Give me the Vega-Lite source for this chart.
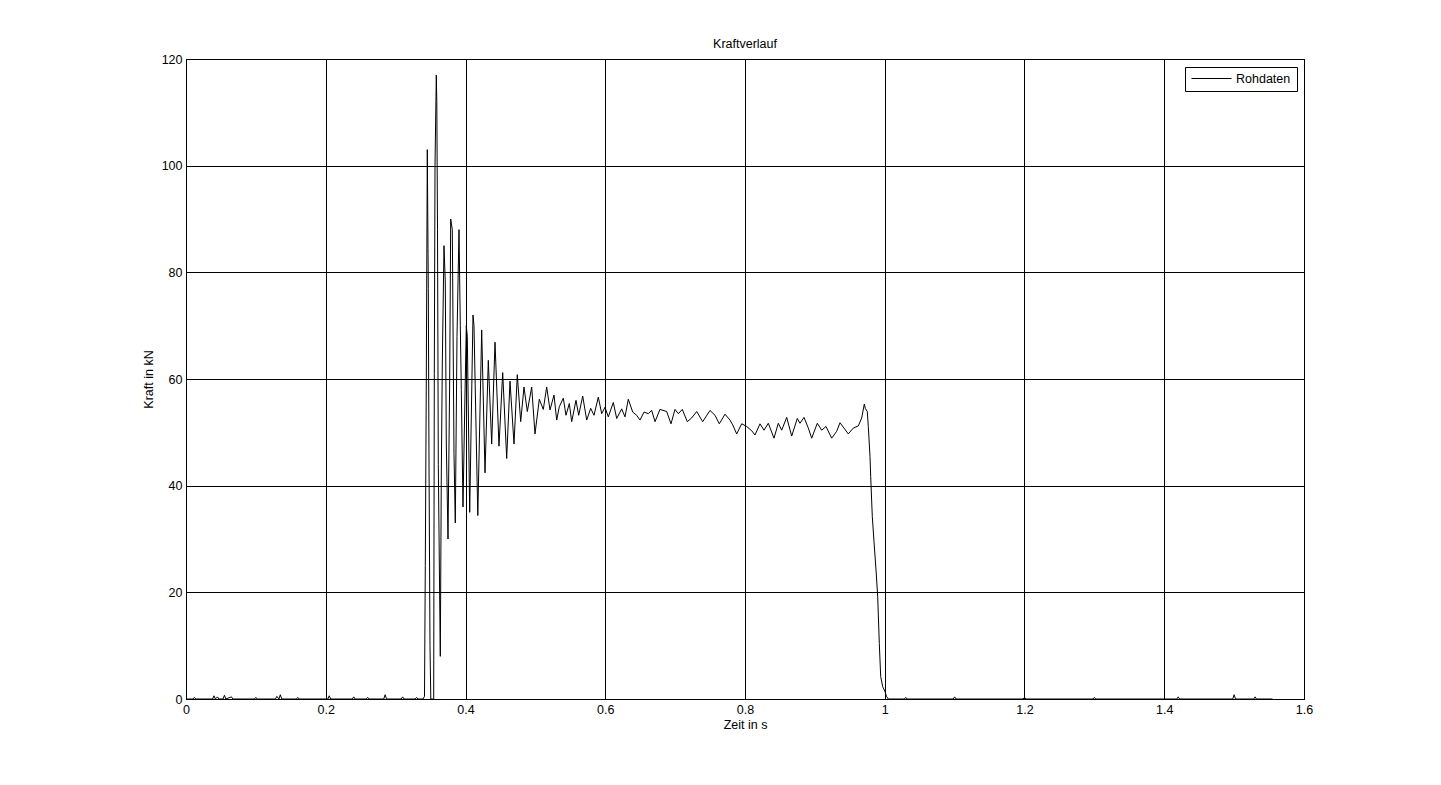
{
  "$schema": "https://vega.github.io/schema/vega-lite/v6.json",
  "autosize": "none",
  "padding": {"left": 186, "top": 59, "right": 137, "bottom": 86},
  "width": 1118,
  "height": 640,
  "background": "white",
  "title": {
    "text": "Kraftverlauf",
    "font": "Liberation Sans",
    "fontSize": 12.5,
    "fontWeight": "normal",
    "color": "black",
    "offset": 3
  },
  "data": {
    "values": [
      {"t": 0.0, "F": 0}, {"t": 0.010, "F": 0}, {"t": 0.012, "F": 0.3}, {"t": 0.014, "F": 0},
      {"t": 0.038, "F": 0}, {"t": 0.040, "F": 0.6}, {"t": 0.042, "F": 0}, {"t": 0.045, "F": 0.4}, {"t": 0.047, "F": 0},
      {"t": 0.053, "F": 0}, {"t": 0.055, "F": 0.7}, {"t": 0.057, "F": 0}, {"t": 0.065, "F": 0.4}, {"t": 0.067, "F": 0},
      {"t": 0.098, "F": 0}, {"t": 0.100, "F": 0.3}, {"t": 0.102, "F": 0},
      {"t": 0.128, "F": 0}, {"t": 0.130, "F": 0.5}, {"t": 0.133, "F": 0}, {"t": 0.135, "F": 0.8}, {"t": 0.137, "F": 0},
      {"t": 0.158, "F": 0}, {"t": 0.160, "F": 0.3}, {"t": 0.162, "F": 0},
      {"t": 0.203, "F": 0}, {"t": 0.205, "F": 0.6}, {"t": 0.207, "F": 0},
      {"t": 0.238, "F": 0}, {"t": 0.240, "F": 0.4}, {"t": 0.242, "F": 0},
      {"t": 0.258, "F": 0}, {"t": 0.260, "F": 0.3}, {"t": 0.262, "F": 0},
      {"t": 0.283, "F": 0}, {"t": 0.285, "F": 0.8}, {"t": 0.287, "F": 0},
      {"t": 0.308, "F": 0}, {"t": 0.310, "F": 0.4}, {"t": 0.312, "F": 0},
      {"t": 0.328, "F": 0}, {"t": 0.330, "F": 0.3}, {"t": 0.332, "F": 0},
      {"t": 0.33918, "F": 0},
      {"t": 0.34132, "F": 0.5},
      {"t": 0.34247, "F": 25},
      {"t": 0.34390, "F": 60},
      {"t": 0.34533, "F": 103},
      {"t": 0.34633, "F": 84.5},
      {"t": 0.34676, "F": 77},
      {"t": 0.34776, "F": 45},
      {"t": 0.34919, "F": 10},
      {"t": 0.35034, "F": 0},
      {"t": 0.35277, "F": 0},
      {"t": 0.35449, "F": 0},
      {"t": 0.35535, "F": 61},
      {"t": 0.35635, "F": 100},
      {"t": 0.35821, "F": 117},
      {"t": 0.35893, "F": 112},
      {"t": 0.35993, "F": 88},
      {"t": 0.36107, "F": 44},
      {"t": 0.36394, "F": 8},
      {"t": 0.36537, "F": 42},
      {"t": 0.36680, "F": 63},
      {"t": 0.36923, "F": 85},
      {"t": 0.37109, "F": 78},
      {"t": 0.37252, "F": 48},
      {"t": 0.37496, "F": 30},
      {"t": 0.37739, "F": 60},
      {"t": 0.37882, "F": 90},
      {"t": 0.38111, "F": 88},
      {"t": 0.38354, "F": 46},
      {"t": 0.38540, "F": 33},
      {"t": 0.38784, "F": 68},
      {"t": 0.39070, "F": 88},
      {"t": 0.39256, "F": 70},
      {"t": 0.39399, "F": 58},
      {"t": 0.39642, "F": 36},
      {"t": 0.39886, "F": 54},
      {"t": 0.40114, "F": 70},
      {"t": 0.40258, "F": 68},
      {"t": 0.40601, "F": 35},
      {"t": 0.41073, "F": 72},
      {"t": 0.41216, "F": 70},
      {"t": 0.41760, "F": 34.4},
      {"t": 0.42318, "F": 69.2},
      {"t": 0.42791, "F": 42.4},
      {"t": 0.43263, "F": 63.5},
      {"t": 0.43750, "F": 47.8},
      {"t": 0.44222, "F": 66.9},
      {"t": 0.44794, "F": 47.4},
      {"t": 0.45324, "F": 61.2},
      {"t": 0.45896, "F": 45.1},
      {"t": 0.46369, "F": 59.6},
      {"t": 0.46941, "F": 47.8},
      {"t": 0.47413, "F": 60.8},
      {"t": 0.47900, "F": 52},
      {"t": 0.48372, "F": 58.5},
      {"t": 0.48844, "F": 53.9},
      {"t": 0.49474, "F": 58.5},
      {"t": 0.49946, "F": 49.7},
      {"t": 0.50562, "F": 56.2},
      {"t": 0.51134, "F": 54.3},
      {"t": 0.51621, "F": 58.5},
      {"t": 0.52093, "F": 54.2},
      {"t": 0.52665, "F": 57},
      {"t": 0.53052, "F": 52.3},
      {"t": 0.53424, "F": 54.8},
      {"t": 0.53996, "F": 56.4},
      {"t": 0.54383, "F": 53.2},
      {"t": 0.54855, "F": 55.4},
      {"t": 0.55199, "F": 52},
      {"t": 0.55814, "F": 56},
      {"t": 0.56200, "F": 53.2},
      {"t": 0.56773, "F": 56.8},
      {"t": 0.57345, "F": 52.3},
      {"t": 0.57918, "F": 54.5},
      {"t": 0.58390, "F": 53.2},
      {"t": 0.59005, "F": 56.6},
      {"t": 0.59492, "F": 53.5},
      {"t": 0.59964, "F": 54.7},
      {"t": 0.60436, "F": 52.9},
      {"t": 0.61152, "F": 55.6},
      {"t": 0.61639, "F": 52.6},
      {"t": 0.62354, "F": 54.4},
      {"t": 0.62826, "F": 52.9},
      {"t": 0.63299, "F": 56.2},
      {"t": 0.63929, "F": 53.8},
      {"t": 0.64501, "F": 53.2},
      {"t": 0.64973, "F": 52.3},
      {"t": 0.65546, "F": 53.8},
      {"t": 0.66161, "F": 53.5},
      {"t": 0.66648, "F": 54.1},
      {"t": 0.67120, "F": 52},
      {"t": 0.67835, "F": 54.3},
      {"t": 0.68794, "F": 53.9},
      {"t": 0.69410, "F": 51.6},
      {"t": 0.69982, "F": 54.3},
      {"t": 0.70455, "F": 53.5},
      {"t": 0.71027, "F": 54.3},
      {"t": 0.71742, "F": 52},
      {"t": 0.72372, "F": 52.7},
      {"t": 0.73088, "F": 53.9},
      {"t": 0.73946, "F": 52},
      {"t": 0.74991, "F": 54.1},
      {"t": 0.75707, "F": 53.2},
      {"t": 0.76322, "F": 51.6},
      {"t": 0.77138, "F": 53.4},
      {"t": 0.77853, "F": 52.3},
      {"t": 0.78240, "F": 51.4},
      {"t": 0.78812, "F": 49.7},
      {"t": 0.79528, "F": 51.6},
      {"t": 0.80243, "F": 51.1},
      {"t": 0.80959, "F": 50.3},
      {"t": 0.81431, "F": 49.5},
      {"t": 0.82147, "F": 51.6},
      {"t": 0.82719, "F": 50.4},
      {"t": 0.83335, "F": 51.7},
      {"t": 0.84150, "F": 48.9},
      {"t": 0.84766, "F": 51.7},
      {"t": 0.85252, "F": 50.4},
      {"t": 0.85968, "F": 52.8},
      {"t": 0.86683, "F": 49.3},
      {"t": 0.87485, "F": 52.6},
      {"t": 0.87871, "F": 51.7},
      {"t": 0.88444, "F": 52.8},
      {"t": 0.89059, "F": 50.8},
      {"t": 0.89546, "F": 48.9},
      {"t": 0.90347, "F": 51.7},
      {"t": 0.90977, "F": 50.4},
      {"t": 0.91592, "F": 51.1},
      {"t": 0.92408, "F": 48.9},
      {"t": 0.93123, "F": 50.2},
      {"t": 0.93596, "F": 51.8},
      {"t": 0.94168, "F": 50.8},
      {"t": 0.94783, "F": 49.7},
      {"t": 0.95499, "F": 50.8},
      {"t": 0.96215, "F": 51.2},
      {"t": 0.96701, "F": 52.7},
      {"t": 0.97073, "F": 55.3},
      {"t": 0.97216, "F": 54.5},
      {"t": 0.97502, "F": 53.9},
      {"t": 0.97646, "F": 51.1},
      {"t": 0.97889, "F": 45.5},
      {"t": 0.97989, "F": 41.7},
      {"t": 0.98218, "F": 34.2},
      {"t": 0.98462, "F": 29.5},
      {"t": 0.98748, "F": 24.2},
      {"t": 0.98991, "F": 19.2},
      {"t": 0.99220, "F": 10.4},
      {"t": 0.99420, "F": 4.2},
      {"t": 0.99707, "F": 2.3},
      {"t": 1.00036, "F": 1.4},
      {"t": 1.00250, "F": 0.5},
      {"t": 1.00508, "F": 0},
      {"t": 1.028, "F": 0}, {"t": 1.030, "F": 0.3}, {"t": 1.032, "F": 0},
      {"t": 1.098, "F": 0}, {"t": 1.100, "F": 0.4}, {"t": 1.102, "F": 0},
      {"t": 1.198, "F": 0}, {"t": 1.200, "F": 0.3}, {"t": 1.202, "F": 0},
      {"t": 1.298, "F": 0}, {"t": 1.300, "F": 0.3}, {"t": 1.302, "F": 0},
      {"t": 1.418, "F": 0}, {"t": 1.420, "F": 0.4}, {"t": 1.422, "F": 0},
      {"t": 1.498, "F": 0}, {"t": 1.500, "F": 0.8}, {"t": 1.502, "F": 0},
      {"t": 1.528, "F": 0}, {"t": 1.530, "F": 0.4}, {"t": 1.532, "F": 0},
      {"t": 1.555, "F": 0}
    ]
  },
  "mark": {"type": "line", "strokeWidth": 1, "interpolate": "linear"},
  "encoding": {
    "x": {
      "field": "t",
      "type": "quantitative",
      "title": "Zeit in s",
      "scale": {"domain": [0, 1.6], "nice": false, "zero": false},
      "axis": {"values": [0, 0.2, 0.4, 0.6, 0.8, 1, 1.2, 1.4, 1.6], "format": "~g"}
    },
    "y": {
      "field": "F",
      "type": "quantitative",
      "title": "Kraft in kN",
      "scale": {"domain": [0, 120], "nice": false},
      "axis": {"values": [0, 20, 40, 60, 80, 100, 120], "format": "d"}
    },
    "color": {
      "datum": "Rohdaten",
      "type": "nominal",
      "scale": {"range": ["black"]},
      "legend": {
        "title": null,
        "orient": "none",
        "legendX": 999,
        "legendY": 8,
        "symbolType": "stroke",
        "symbolSize": 1600,
        "symbolStrokeWidth": 1,
        "symbolStrokeColor": "black",
        "clipHeight": 11,
        "labelFont": "Liberation Sans",
        "labelFontSize": 12.5,
        "labelColor": "black",
        "labelOffset": 4,
        "strokeColor": "black",
        "fillColor": "white",
        "padding": 6
      }
    }
  },
  "config": {
    "view": {"stroke": "black", "strokeWidth": 1},
    "axis": {
      "grid": true,
      "gridColor": "black",
      "gridOpacity": 1,
      "gridWidth": 1,
      "domainColor": "black",
      "ticks": false,
      "labelFlush": false,
      "labelFont": "Liberation Sans",
      "labelFontSize": 12.5,
      "labelColor": "black",
      "labelPadding": 4,
      "titleFont": "Liberation Sans",
      "titleFontSize": 12.5,
      "titleFontWeight": "normal",
      "titleColor": "black"
    },
    "axisX": {"titlePadding": 3},
    "axisY": {"titlePadding": 6}
  }
}
